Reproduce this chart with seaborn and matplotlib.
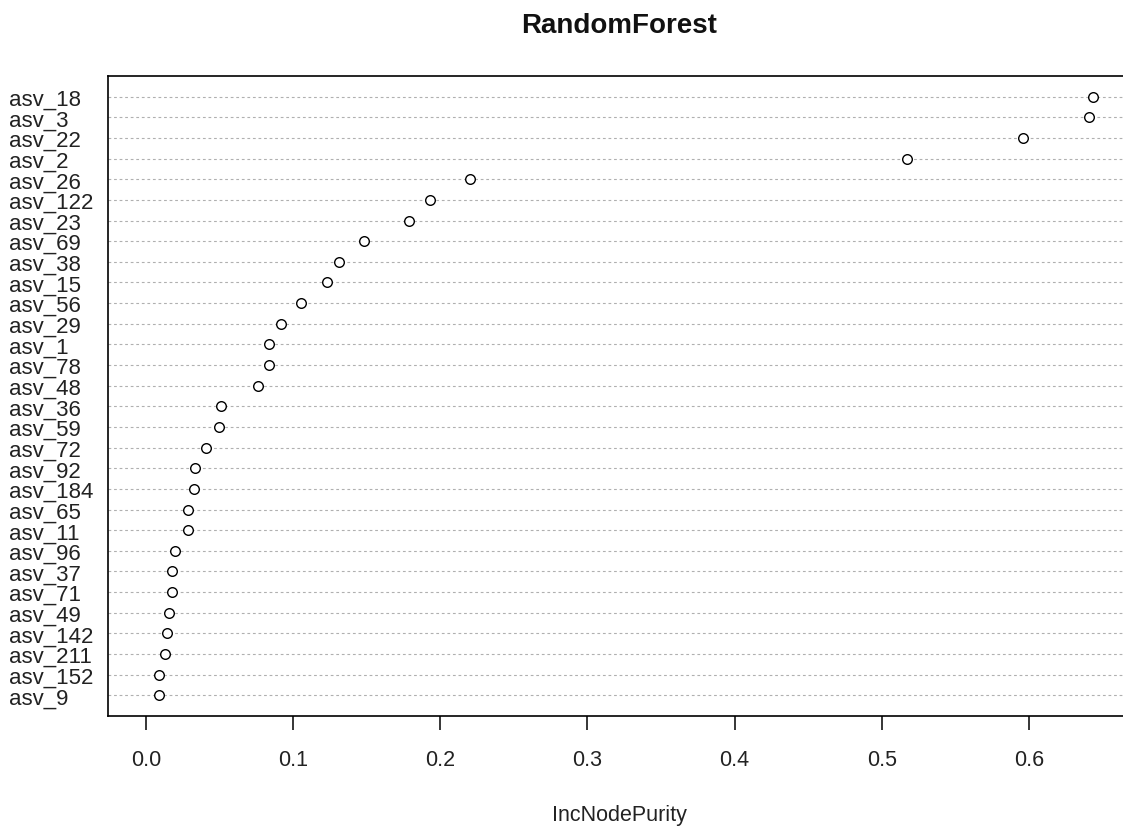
import matplotlib
matplotlib.use("Agg")
import matplotlib.pyplot as plt
import seaborn as sns
import pandas as pd

features = ["asv_18", "asv_3", "asv_22", "asv_2", "asv_26", "asv_122", "asv_23",
            "asv_69", "asv_38", "asv_15", "asv_56", "asv_29", "asv_1", "asv_78",
            "asv_48", "asv_36", "asv_59", "asv_72", "asv_92", "asv_184", "asv_65",
            "asv_11", "asv_96", "asv_37", "asv_71", "asv_49", "asv_142", "asv_211",
            "asv_152", "asv_9"]
purity = [0.6435, 0.6405, 0.596, 0.517, 0.220, 0.193, 0.179,
          0.1485, 0.131, 0.1233, 0.1057, 0.092, 0.0834, 0.0834,
          0.0764, 0.0512, 0.0494, 0.0408, 0.0335, 0.0329, 0.0288,
          0.0288, 0.0199, 0.0179, 0.0179, 0.0154, 0.0143, 0.0127,
          0.0086, 0.0086]
xticks = [0.0, 0.1, 0.2, 0.3, 0.4, 0.5, 0.6]

sns.set_theme(style="white")
plt.rcParams['font.family'] = ['Liberation Sans', 'DejaVu Sans']

n = len(features)
df = pd.DataFrame({"feature": features, "IncNodePurity": purity,
                   "pos": [n - i for i in range(n)]})

fig = plt.figure(figsize=(11.23, 8.29), dpi=100)
ax = fig.add_axes([108 / 1123, 1 - 717 / 829, (1131 - 108) / 1123, (717 - 77) / 829])

for p in df["pos"]:
    ax.axhline(p, color="#b0b0b0", lw=0.8, linestyle=(0, (2.5, 2.5)), zorder=1)

sns.scatterplot(data=df, x="IncNodePurity", y="pos", ax=ax, marker="o",
                s=48, facecolor="white", edgecolor="black", linewidth=1.0,
                zorder=3, legend=False)

vmax = max(purity)
ax.set_xlim(-0.04 * vmax, 1.04 * vmax)
ax.set_ylim(0, n + 1)
ax.set_yticks(df["pos"])
ax.set_yticklabels(features, ha="left", fontsize=16, color="#222222")
ax.tick_params(axis="y", length=0, pad=71)
ax.set_xticks(xticks)
ax.set_xticklabels([f"{t:.1f}" for t in xticks], fontsize=15.5, color="#222222")
ax.tick_params(axis="x", length=10, width=1.1, color="black", direction="out",
               bottom=True, pad=14)

for side in ["left", "top", "bottom"]:
    ax.spines[side].set_color("black")
    ax.spines[side].set_linewidth(1.2)
ax.spines["right"].set_visible(False)

ax.set_xlabel("IncNodePurity", fontsize=15.5, labelpad=24, color="#222222")
ax.set_ylabel("")
ax.set_title("RandomForest", fontsize=20, fontweight="bold", pad=32, color="#111111")

fig.savefig("out.png", dpi=100, facecolor="white")
